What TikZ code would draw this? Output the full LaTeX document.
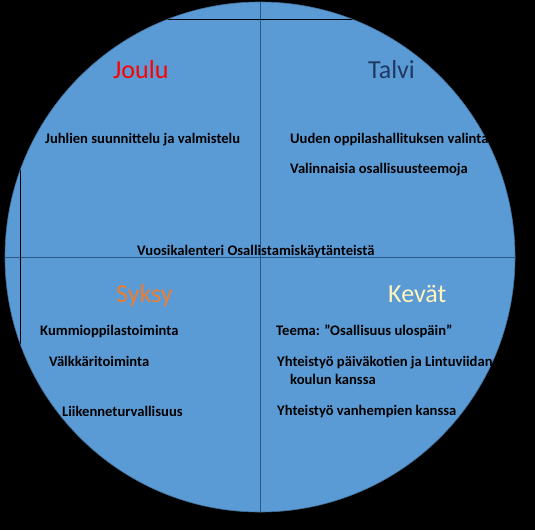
\documentclass[tikz,border=0pt]{standalone}
\usepackage{fontspec}
\setmainfont{Carlito}
\usetikzlibrary{positioning}
\definecolor{WheelBlue}{HTML}{5B9BD5}
\definecolor{WheelEdge}{HTML}{41719C}
\definecolor{RuleBlue}{HTML}{2A5783}
\definecolor{TalviNavy}{HTML}{1F3864}
\definecolor{SyksyOrange}{HTML}{ED7D31}
\definecolor{KevatCream}{HTML}{FFF4BC}

\begin{document}
\begin{tikzpicture}[
  x=1pt, y=-1pt,
  season/.style={anchor=base west, inner sep=0pt,
    font=\fontsize{26}{30}\selectfont},
  item/.style={anchor=base west, inner sep=0pt,
    font=\fontsize{14.6}{16}\selectfont\bfseries},
  rule/.style={RuleBlue, line width=0.8pt}
]
  % background and page size
  \fill[black] (0,0) rectangle (535,530);
  \useasboundingbox (0,0) rectangle (535,530);
  \coordinate (c) at (260,257);
  \fill[WheelBlue] (c) circle (255);
  \begin{scope}
    \clip (c) circle (255);
    \draw[rule] (260,0) -- (260,530);
    \draw[rule] (0,257) -- (535,257);
    \draw[black, line width=0.6pt] (0,19) -- (535,19);
    \draw[black, line width=0.6pt] (20,0) -- (20,530);
  \end{scope}
  \draw[WheelEdge, line width=0.6pt] (c) circle (255);

  % seasons
  \node[season, red] (joulu) at (113,78) {Joulu};
  \node[season, TalviNavy] (talvi) at (368,78) {Talvi};
  \node[season, SyksyOrange] (syksy) at (116,302) {Syksy};
  \node[season, KevatCream] (kevat) at (388,302) {Kevät};

  % activities
  \node[item] (juhlat) at (45,143) {Juhlien suunnittelu ja valmistelu};
  \node[item] (hallitus) at (290,143) {Uuden oppilashallituksen valinta};
  \node[item] (teemat) at (290,173) {Valinnaisia osallisuusteemoja};
  \node[item] (kalenteri) at (137,255) {Vuosikalenteri Osallistamiskäytänteistä};
  \node[item] (kummit) at (40,335) {Kummioppilastoiminta};
  \node[item] (valkkarit) at (49,366) {Välkkäritoiminta};
  \node[item] (liikenne) at (62,416) {Liikenneturvallisuus};
  \node[item] (teema) at (276,335) {Teema: ”Osallisuus ulospäin”};
  \node[item] (paivakodit) at (277,366) {Yhteistyö päiväkotien ja Lintuviidan};
  \node[item] (koulu) at (290,384) {koulun kanssa};
  \node[item] (vanhemmat) at (277,415) {Yhteistyö vanhempien kanssa};
\end{tikzpicture}
\end{document}
